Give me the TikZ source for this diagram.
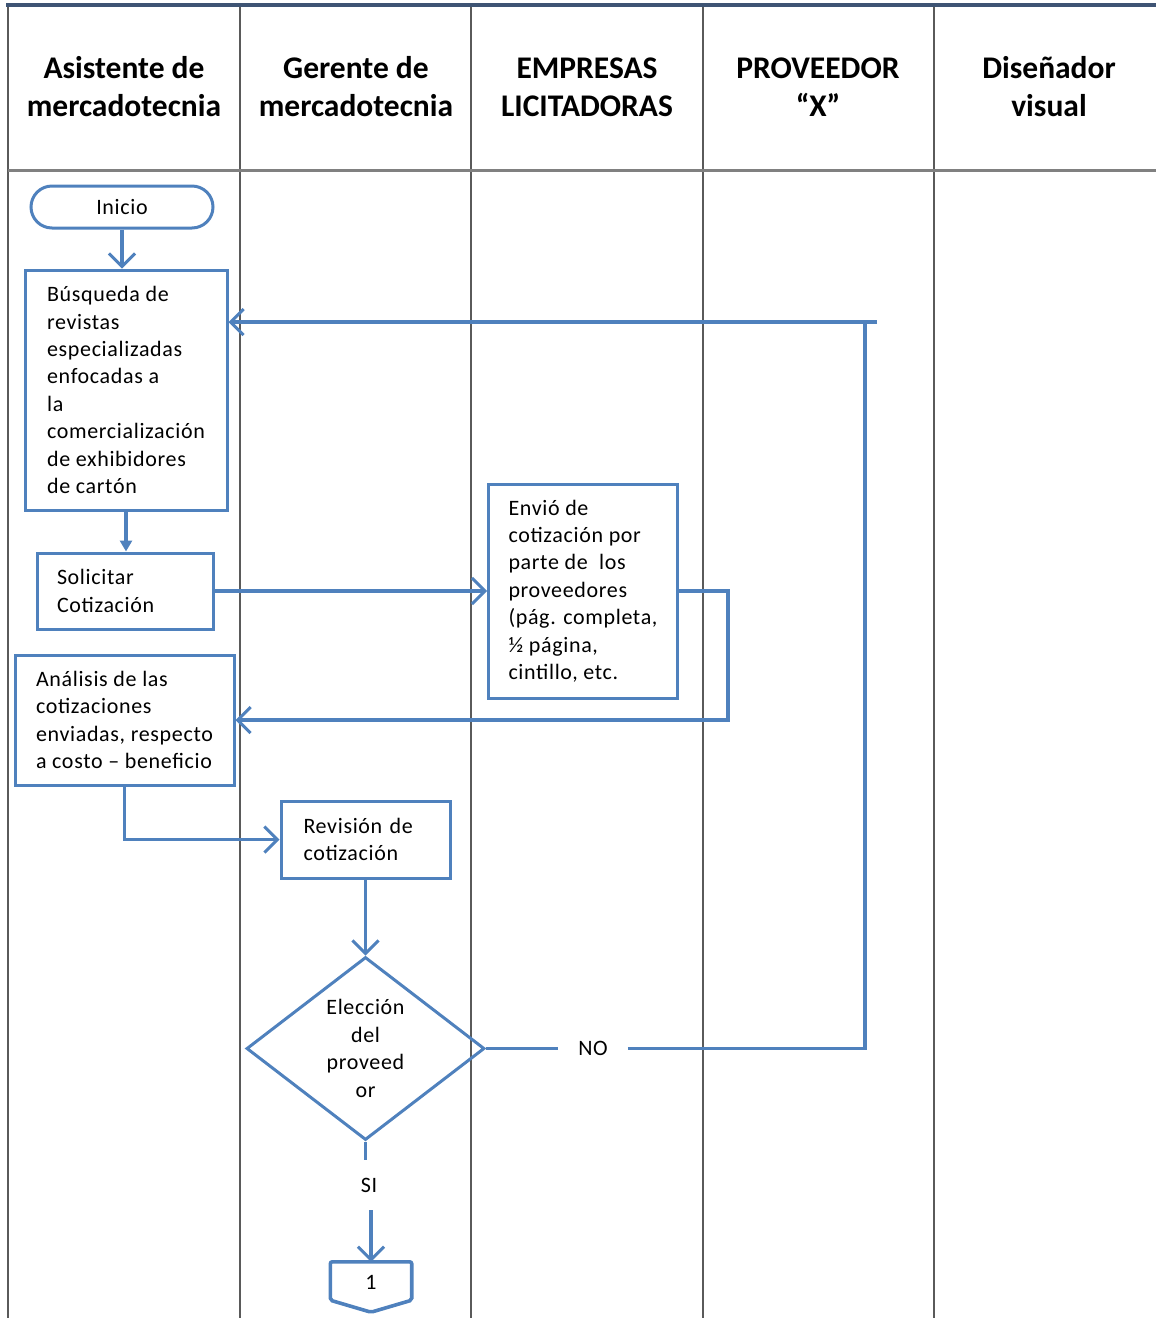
\documentclass[tikz,border=0pt]{standalone}
\usepackage{fontspec}
\setmainfont{Carlito}
\newfontfamily\bodyfont[LetterSpace=3]{Carlito}
\usetikzlibrary{arrows.meta,shapes.geometric,calc}
\definecolor{flow}{RGB}{79,129,189}
\definecolor{lane}{RGB}{90,90,90}
\definecolor{topline}{RGB}{62,84,116}
\begin{document}
\begin{tikzpicture}[x=1pt,y=-1pt,
  body/.style={font=\bodyfont\fontsize{22}{27.4}\selectfont},
  head/.style={font=\fontsize{31.5}{38}\selectfont\bfseries, align=center},
  lanesep/.style={draw=lane, line width=2.8pt},
  flowbox/.style={draw=flow, line width=3pt, body, inner xsep=20pt, inner ysep=0pt},
  flowline/.style={draw=flow, line width=3.2pt},
  openarrow/.style={flowline, -{Straight Barb[length=13pt,width=26pt,line width=3pt]}},
  solidarrow/.style={flowline, -{Triangle[length=11pt,width=12pt]}},
  lbl/.style={body, inner ysep=0pt}
]
\useasboundingbox (0,0) rectangle (1156,1318);

% swimlane frame
\draw[lanesep] (8,5) -- (8,1318);
\draw[lanesep] (240,5) -- (240,1318);
\draw[lanesep] (471,5) -- (471,1318);
\draw[lanesep] (703,5) -- (703,1318);
\draw[lanesep] (934,5) -- (934,1318);
\draw[draw=gray, line width=3pt] (8,170) -- (1156,170);
\draw[draw=topline, line width=4pt] (6,5) -- (1156,5);

% lane headers
\node[head] (h1) at (124,87) {Asistente de\\mercadotecnia};
\node[head] (h2) at (356,87) {Gerente de\\mercadotecnia};
\node[head] (h3) at (587,87) {EMPRESAS\\LICITADORAS};
\node[head] (h4) at (818,87) {PROVEEDOR\\“X”};
\node[head] (h5) at (1049,87) {Diseñador\\visual};

% process steps
\node[flowbox, rounded corners=21pt, minimum width=182pt, minimum height=42pt] (ini) at (122,207) {Inicio};
\node[flowbox, align=left, minimum width=202pt, minimum height=240pt] (bus) at (126,390)
  {Búsqueda de\\revistas\\especializadas\\enfocadas a\\la\\comercialización\\de exhibidores\\de cartón};
\node[flowbox, align=left, text width=136pt, minimum width=176pt, minimum height=76pt] (sol) at (125,591)
  {Solicitar\\Cotización};
\node[flowbox, align=left, minimum width=188pt, minimum height=214pt] (env) at (583,591)
  {Envió de\\cotización por\\parte de \ los\\proveedores\\(pág. completa,\\½ página,\\cintillo, etc.};
\node[flowbox, align=left, minimum width=219pt, minimum height=130pt] (ana) at (124.5,720)
  {Análisis de las\\cotizaciones\\enviadas, respecto\\a costo – beneficio};
\node[flowbox, align=left, text width=124pt, minimum width=169pt, minimum height=77pt, inner xsep=22pt] (rev) at (365.5,839.5)
  {Revisión de\\cotización};
\node[draw=flow, line width=3pt, diamond, body, align=center, inner sep=0pt,
      minimum width=238pt, minimum height=183pt] (dia) at (365.5,1048.5)
  {Elección\\del\\proveed\\or};

% labels on the decision branches
\node[lbl, inner xsep=20pt, minimum height=0pt] (no) at (593,1048.5) {NO};
\node[lbl, minimum height=50pt, inner xsep=0pt] (si) at (369,1185) {SI};

% off-page connector
\node[minimum width=81pt, minimum height=50pt, inner sep=0pt] (fin) at (371,1287) {};
\draw[flowline, line width=3.6pt, rounded corners=2pt]
  (fin.north west) -- (fin.north east) -- ($(fin.south east)+(0,-12)$)
  -- (fin.south) -- ($(fin.south west)+(0,-12)$) -- cycle;
\node[body] (finlbl) at (371,1282) {1};

% connectors
\draw[openarrow] (ini.south) -- (ini.south |- bus.north);
\draw[solidarrow] (bus.south) -- (bus.south |- sol.north);
\draw[openarrow] (sol.east) -- (env.west);
\coordinate (envturn) at (728,591);
\draw[openarrow] (env.east) -- (envturn) |- (ana.east);
\draw[openarrow] (ana.south) |- (rev.west);
\draw[openarrow] (rev.south) -- (dia.north);
\draw[flowline] (dia.east) -- (no.west);
\coordinate (loopcorner) at (865,322);
\coordinate (loopend) at (877,322);
\draw[flowline] (no.east) -| (loopcorner);
\draw[openarrow] (loopend) -- (bus.east |- loopend);
\draw[flowline] (dia.south) -- (dia.south |- si.north);
\draw[openarrow] (fin.north |- si.south) -- (fin.north);
\end{tikzpicture}
\end{document}
